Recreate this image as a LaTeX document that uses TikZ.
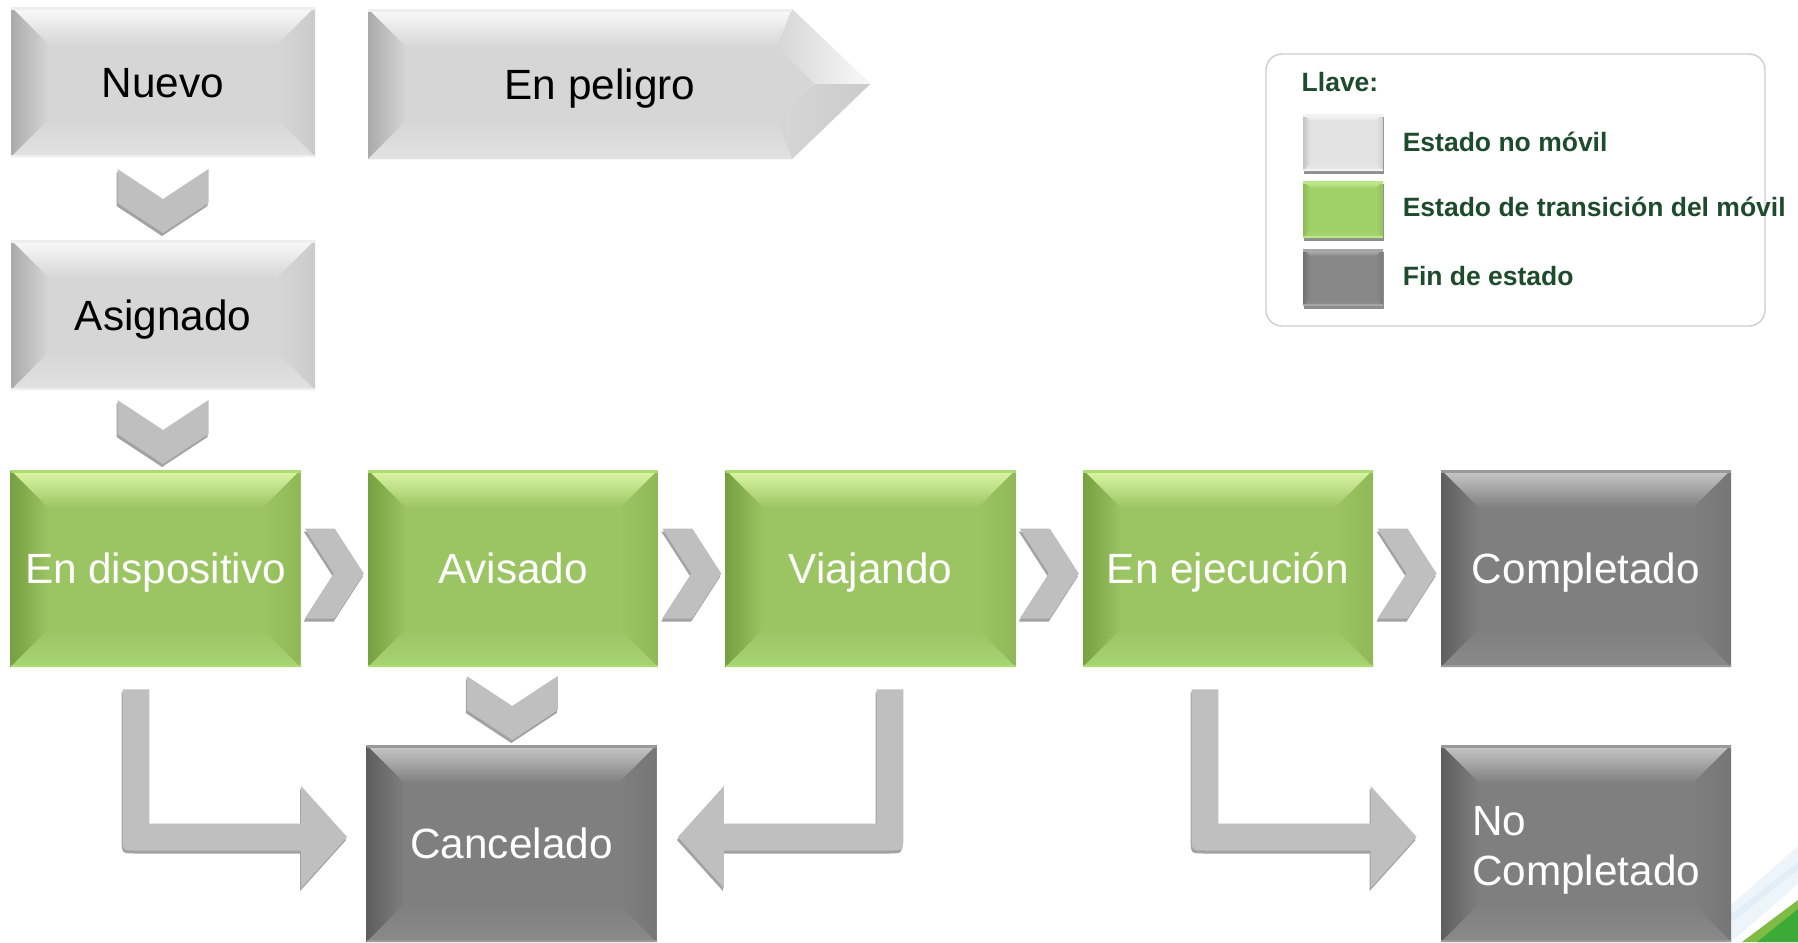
\documentclass[tikz,border=0pt]{standalone}
\usepackage{fontspec}
\setmainfont{Liberation Sans}
\usetikzlibrary{calc,shadows}
\definecolor{arrgray}{HTML}{BFBFBF}
\definecolor{arrshadow}{HTML}{A2A2A2}
\definecolor{swshadow}{HTML}{8E8E8E}
\definecolor{legGreen}{HTML}{1D4B2B}
\definecolor{legBorder}{HTML}{CDCDCD}
\definecolor{lgBase}{HTML}{D6D6D6}
\definecolor{lgTop}{HTML}{FAFAFA}
\definecolor{lgLeft}{HTML}{AAAAAA}
\definecolor{lgRight}{HTML}{CBCBCB}
\definecolor{lgBot}{HTML}{E2E2E2}
\definecolor{lgLine}{HTML}{EEEEEE}
\definecolor{grBase}{HTML}{9BC463}
\definecolor{grTop}{HTML}{DDF7A6}
\definecolor{grLeft}{HTML}{76A041}
\definecolor{grRight}{HTML}{8FB957}
\definecolor{grBot}{HTML}{A9D474}
\definecolor{grLine}{HTML}{ACDD70}
\definecolor{dkBase}{HTML}{7F7F7F}
\definecolor{dkTop}{HTML}{C9C9C9}
\definecolor{dkLeft}{HTML}{5E5E5E}
\definecolor{dkRight}{HTML}{767676}
\definecolor{dkBot}{HTML}{8A8A8A}
\definecolor{dkLine}{HTML}{9A9A9A}
\definecolor{saBase}{HTML}{E3E3E3}
\definecolor{saTop}{HTML}{F8F8F8}
\definecolor{saLeft}{HTML}{C4C4C4}
\definecolor{saRight}{HTML}{CFCFCF}
\definecolor{saBot}{HTML}{E9E9E9}
\definecolor{saLine}{HTML}{F2F2F2}
\definecolor{sbBase}{HTML}{A0D168}
\definecolor{sbTop}{HTML}{CDF19C}
\definecolor{sbLeft}{HTML}{8BBD53}
\definecolor{sbRight}{HTML}{93C45B}
\definecolor{sbBot}{HTML}{A7D672}
\definecolor{sbLine}{HTML}{B9E785}
\definecolor{scBase}{HTML}{878787}
\definecolor{scTop}{HTML}{BEBEBE}
\definecolor{scLeft}{HTML}{727272}
\definecolor{scRight}{HTML}{7B7B7B}
\definecolor{scBot}{HTML}{8F8F8F}
\definecolor{scLine}{HTML}{A6A6A6}
\definecolor{decoLight}{HTML}{80BC45}
\definecolor{decoDark}{HTML}{3BAA36}
\definecolor{decoBlue}{HTML}{EEF5FA}
\definecolor{decoBlueB}{HTML}{E2EEF7}
% bevel drawn inside a node: base, top, left, right, bottom, line colour, inset (pt)
\newcommand\bevelcode[7]{%
  \coordinate (pnw) at (path picture bounding box.north west);
  \coordinate (pne) at (path picture bounding box.north east);
  \coordinate (psw) at (path picture bounding box.south west);
  \coordinate (pse) at (path picture bounding box.south east);
  \shade[top color=#2, bottom color=#1] (pnw) -- (pne) -- ([xshift=-#7pt,yshift=-#7pt]pne) -- ([xshift=#7pt,yshift=-#7pt]pnw) -- cycle;
  \shade[left color=#3, right color=#1] (pnw) -- ([xshift=#7pt,yshift=-#7pt]pnw) -- ([xshift=#7pt,yshift=#7pt]psw) -- (psw) -- cycle;
  \shade[left color=#1, right color=#4] (pne) -- ([xshift=-#7pt,yshift=-#7pt]pne) -- ([xshift=-#7pt,yshift=#7pt]pse) -- (pse) -- cycle;
  \shade[top color=#1, bottom color=#5] (psw) -- ([xshift=#7pt,yshift=#7pt]psw) -- ([xshift=-#7pt,yshift=#7pt]pse) -- (pse) -- cycle;
  \fill[#6] (pnw) rectangle ([yshift=-1.5pt]pne);
  \fill[#6] (psw) rectangle ([yshift=1pt]pse);
}
% bent block arrow, shaft down then right: start, tip, dx, dy, colour
\newcommand\bentR[5]{%
  \coordinate (ba) at ($(#1)+(#3-13.3,#4)$);
  \coordinate (bb) at ($(#1)+(#3+13.3,#4)$);
  \coordinate (bd) at ($(#2)+(#3-46,#4-13.5)$);
  \coordinate (be) at ($(#2)+(#3-46,#4-51)$);
  \coordinate (bf) at ($(#2)+(#3,#4)$);
  \coordinate (bg) at ($(#2)+(#3-46,#4+51)$);
  \coordinate (bh) at ($(#2)+(#3-46,#4+13.5)$);
  \coordinate (bi) at (ba |- bh);
  \fill[#5] (ba) -- (bb) -- (bb |- bd) -- (bd) -- (be) -- (bf) -- (bg) -- (bh) -- ($(bi)+(14,0)$) .. controls (bi) .. ($(bi)+(0,-14)$) -- cycle;
}
% bent block arrow, shaft down then left
\newcommand\bentL[5]{%
  \coordinate (ba) at ($(#1)+(#3+13.3,#4)$);
  \coordinate (bb) at ($(#1)+(#3-13.3,#4)$);
  \coordinate (bd) at ($(#2)+(#3+46,#4-13.5)$);
  \coordinate (be) at ($(#2)+(#3+46,#4-51)$);
  \coordinate (bf) at ($(#2)+(#3,#4)$);
  \coordinate (bg) at ($(#2)+(#3+46,#4+51)$);
  \coordinate (bh) at ($(#2)+(#3+46,#4+13.5)$);
  \coordinate (bi) at (ba |- bh);
  \fill[#5] (ba) -- (bb) -- (bb |- bd) -- (bd) -- (be) -- (bf) -- (bg) -- (bh) -- ($(bi)+(-14,0)$) .. controls (bi) .. ($(bi)+(0,-14)$) -- cycle;
}
\begin{document}
\begin{tikzpicture}[x=0.5pt,y=-0.5pt,
  lbl/.style={font=\fontsize{21.15pt}{28.5pt}\selectfont, text height=15.2pt, text depth=0pt},
  lightbox/.style={rectangle, inner sep=0pt, minimum width=152pt, minimum height=75pt, fill=lgBase,
    path picture={\bevelcode{lgBase}{lgTop}{lgLeft}{lgRight}{lgBot}{lgLine}{19}}, lbl, text=black},
  greenbox/.style={rectangle, inner sep=0pt, minimum width=145pt, minimum height=98.5pt, fill=grBase,
    path picture={\bevelcode{grBase}{grTop}{grLeft}{grRight}{grBot}{grLine}{19}}, lbl, text=white},
  darkbox/.style={rectangle, inner sep=0pt, minimum width=145pt, minimum height=98.5pt, fill=dkBase,
    path picture={\bevelcode{dkBase}{dkTop}{dkLeft}{dkRight}{dkBot}{dkLine}{19}}, lbl, text=white},
  swatch/.style={rectangle, inner sep=0pt, minimum width=40pt, minimum height=28.5pt, fill=#1Base,
    path picture={\bevelcode{#1Base}{#1Top}{#1Left}{#1Right}{#1Bot}{#1Line}{3.5}},
    drop shadow={shadow xshift=0.5pt, shadow yshift=-1.5pt, fill=swshadow, opacity=1}},
  legtxt/.style={font=\bfseries\fontsize{13.25pt}{16pt}\selectfont, text=legGreen, anchor=base west, inner sep=0pt},
  chevR/.pic={
    \fill[arrshadow] (-30.5,-42) -- (-0.5,-42) -- (28.5,3) -- (-0.5,48) -- (-30.5,48) -- (-1.5,3) -- cycle;
    \fill[arrgray] (-29.5,-45) -- (0.5,-45) -- (29.5,0) -- (0.5,45) -- (-29.5,45) -- (-0.5,0) -- cycle;
  },
  chevD/.pic={
    \fill[arrshadow] (-46.5,-29) -- (-1,1) -- (44.5,-29) -- (44.5,5) -- (-1,35) -- (-46.5,5) -- cycle;
    \fill[arrgray] (-45.5,-32) -- (0,-2) -- (45.5,-32) -- (45.5,2) -- (0,32) -- (-45.5,2) -- cycle;
  }
]
\useasboundingbox (0,0) rectangle (1798,942);
\fill[white] (0,0) rectangle (1798,942);

% background decoration, bottom right
\fill[decoBlue] (1731,942) -- (1731,905) -- (1798,846) -- (1798,884) -- cycle;
\fill[decoBlueB] (1729,916) -- (1798,862) -- (1798,870) -- (1733,921) -- cycle;
\fill[decoLight] (1742,942) -- (1798,900) -- (1798,942) -- cycle;
\fill[decoDark] (1757,942) -- (1798,909) -- (1798,942) -- cycle;

% legend
\node[draw=legBorder, line width=0.7pt, rounded corners=8pt, minimum width=249.5pt, minimum height=136pt, inner sep=0pt] (legend) at (1515.5,190) {};
\node[legtxt] (lt0) at ($(legend.north west)+(36,38)$) {Llave:};
\node[swatch=sa] (sw1) at (1343,142.5) {};
\node[swatch=sb] (sw2) at (1343,209.5) {};
\node[swatch=sc] (sw3) at (1343,277.5) {};
\node[legtxt] (lt1) at ($(sw1.east)+(19,8.5)$) {Estado no móvil};
\node[legtxt] (lt2) at ($(sw2.east)+(19,6.5)$) {Estado de transición del móvil};
\node[legtxt] (lt3) at ($(sw3.east)+(19,7.5)$) {Fin de estado};

% top-left states
\node[lightbox] (nuevo) at (163,82) {Nuevo};
\node[lightbox] (asig) at (163,315) {Asignado};

% En peligro pentagon
\fill[lgBase] (368,9) -- (792,9) -- (870,84) -- (792,159) -- (368,159) -- cycle;
\shade[top color=lgTop, bottom color=lgBase] (368,9) -- (792,9) -- (777,47) -- (406,47) -- cycle;
\shade[left color=lgLeft, right color=lgBase] (368,9) -- (406,47) -- (406,121) -- (368,159) -- cycle;
\shade[left color=lgBase, right color=white!85!lgBase] (792,9) -- (870,84) -- (815,84) -- (777,47) -- cycle;
\shade[left color=lgBase, right color=lgRight] (870,84) -- (792,159) -- (777,121) -- (815,84) -- cycle;
\shade[top color=lgBase, bottom color=lgBot] (368,159) -- (406,121) -- (777,121) -- (792,159) -- cycle;
\fill[lgLine] (368,9) rectangle (792,12);
\node[lbl] (peligro) at (600,84) {En peligro};

% main row
\node[greenbox] (endisp) at (155.5,568.5) {En dispositivo};
\node[greenbox] (avis) at (513,568.5) {Avisado};
\node[greenbox] (viaj) at (870.5,568.5) {Viajando};
\node[greenbox] (ejec) at (1228,568.5) {En ejecución};
\node[darkbox] (comp) at (1586,568.5) {Completado};

% end states
\node[darkbox] (cancel) at (511.5,843.5) {Cancelado};
\node[darkbox] (nocomp) at (1586,843.5) {};
\node[font=\fontsize{21.15pt}{25pt}\selectfont, text=white, anchor=base west, inner sep=0pt] (nctext) at ($(nocomp.west)+(31,-8.5)$)
  {\begin{tabular}[t]{@{}l@{}}No\\Completado\end{tabular}};

% chevrons
\pic at ($(nuevo.south)!0.5!(asig.north)+(0,2.5)$) {chevD};
\pic at ($(asig.south)!0.5!(asig.south |- endisp.north)+(0,2)$) {chevD};
\pic at ($(avis.south)!0.5!(cancel.north)+(0,2)$) {chevD};
\pic at ($(endisp.east)!0.5!(avis.west)+(0,5)$) {chevR};
\pic at ($(avis.east)!0.5!(viaj.west)+(0,5)$) {chevR};
\pic at ($(viaj.east)!0.5!(ejec.west)+(0,5)$) {chevR};
\pic at ($(ejec.east)!0.5!(comp.west)+(0,5)$) {chevR};

% bent arrows
\coordinate (s1) at ($(endisp.south)+(-19.5,22)$);
\coordinate (t1) at ($(cancel.west)+(-19,-6.5)$);
\coordinate (s2) at ($(viaj.south)+(19.5,22)$);
\coordinate (t2) at ($(cancel.east)+(21,-6.5)$);
\coordinate (s3) at ($(ejec.south)+(-23,22)$);
\coordinate (t3) at ($(nocomp.west)+(-24,-6.5)$);
\bentR{s1}{t1}{-1}{3}{arrshadow}
\bentR{s1}{t1}{0}{0}{arrgray}
\bentL{s2}{t2}{-1}{3}{arrshadow}
\bentL{s2}{t2}{0}{0}{arrgray}
\bentR{s3}{t3}{-1}{3}{arrshadow}
\bentR{s3}{t3}{0}{0}{arrgray}
\end{tikzpicture}
\end{document}
